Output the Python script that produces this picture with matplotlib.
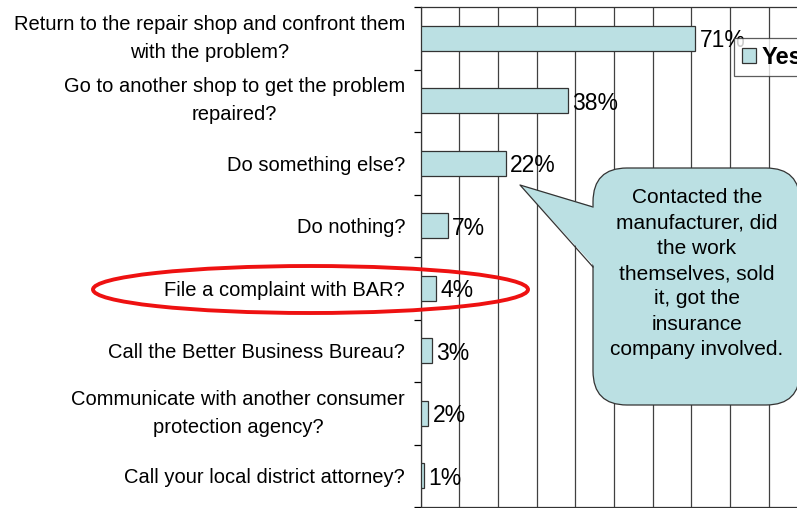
import matplotlib
matplotlib.use("Agg")
import matplotlib.pyplot as plt
from matplotlib import font_manager
from matplotlib.patches import Ellipse, FancyBboxPatch, Polygon
import numpy as np

categories = [
    "Return to the repair shop and confront them\nwith the problem?",
    "Go to another shop to get the problem\nrepaired?",
    "Do something else?",
    "Do nothing?",
    "File a complaint with BAR?",
    "Call the Better Business Bureau?",
    "Communicate with another consumer\nprotection agency?",
    "Call your local district attorney?",
]
values = [71, 38, 22, 7, 4, 3, 2, 1]
value_labels = ["71%", "38%", "22%", "7%", "4%", "3%", "2%", "1%"]
series_name = "Yes"
callout_text = "Contacted the\nmanufacturer, did\nthe work\nthemselves, sold\nit, got the\ninsurance\ncompany involved."

names = {f.name for f in font_manager.fontManager.ttflist}
fam = "Liberation Sans Narrow" if "Liberation Sans Narrow" in names else "Liberation Sans"
plt.rcParams['font.family'] = [fam, 'DejaVu Sans']

W, H = 797, 508
fig = plt.figure(figsize=(W / 100, H / 100), dpi=100)
fig.patch.set_facecolor("white")

ax = fig.add_axes([420.5 / W, 1 - 507 / H, 387 / W, 500 / H])
bar_color = "#BBE0E3"
y = np.arange(len(categories))
ax.barh(y, values, height=0.4, color=bar_color, edgecolor="#333333", linewidth=0.9,
        label=series_name, zorder=3)
ax.set_xlim(0, 100)
ax.set_ylim(len(categories) - 0.5, -0.5)
ax.set_xticks(np.arange(0, 101, 10))
ax.tick_params(axis="x", length=0, labelbottom=False)
ax.grid(axis="x", color="#404040", linewidth=0.9, zorder=0)
ax.set_yticks(y)
ax.set_yticklabels(categories, fontsize=14.5, multialignment="center", linespacing=1.6)
for t in ax.get_yticklabels():
    t.set_va("center" if "\n" in t.get_text() else "center_baseline")
ax.tick_params(axis="y", which="major", length=0, pad=11)
ax.set_yticks(np.arange(-0.5, len(categories), 1), minor=True)
ax.tick_params(axis="y", which="minor", length=5, direction="out", width=0.9)
for s in ax.spines.values():
    s.set_color("#333333")
    s.set_linewidth(0.9)

for yi, v, lab in zip(y, values, value_labels):
    ax.text(v + 1.1, yi + 0.04, lab, va="center", ha="left", fontsize=16.5, zorder=4)

leg = ax.legend(loc="upper left", bbox_to_anchor=(734 / W, 1 - 38 / H),
                bbox_transform=fig.transFigure, frameon=True, fancybox=False,
                prop={"size": 17, "weight": "bold"}, handlelength=0.6,
                handleheight=0.6, handletextpad=0.25, borderpad=0.32,
                borderaxespad=0)
leg.get_frame().set_edgecolor("#333333")
leg.get_frame().set_linewidth(0.9)

# overlay in pixel coordinates for annotations
ov = fig.add_axes([0, 0, 1, 1])
ov.set_xlim(0, W)
ov.set_ylim(H, 0)
ov.axis("off")
ov.patch.set_alpha(0)

ov.add_patch(Ellipse((310.5, 289.5), 435, 47, fill=False, edgecolor="#EE1111",
                     linewidth=2.8, zorder=5))

bx0, by0, bx1, by1 = 593, 168, 800, 405
ov.add_patch(FancyBboxPatch((bx0, by0), bx1 - bx0, by1 - by0,
                            boxstyle="round,pad=0,rounding_size=34",
                            facecolor=bar_color, edgecolor="#333333",
                            linewidth=0.9, zorder=5))
tip = (520, 185)
b1 = (593, 207)
b2 = (593, 267)
ov.add_patch(Polygon([tip, (b1[0] + 2, b1[1]), (b2[0] + 2, b2[1])], closed=True,
                     facecolor=bar_color, edgecolor="none", zorder=6))
ov.plot([b1[0], tip[0], b2[0]], [b1[1], tip[1], b2[1]], color="#333333",
        linewidth=0.9, zorder=7)
ov.text(697, 273.5, callout_text, ha="center", va="center", fontsize=15,
        linespacing=1.43, zorder=8)

fig.savefig("out.png", dpi=100)
